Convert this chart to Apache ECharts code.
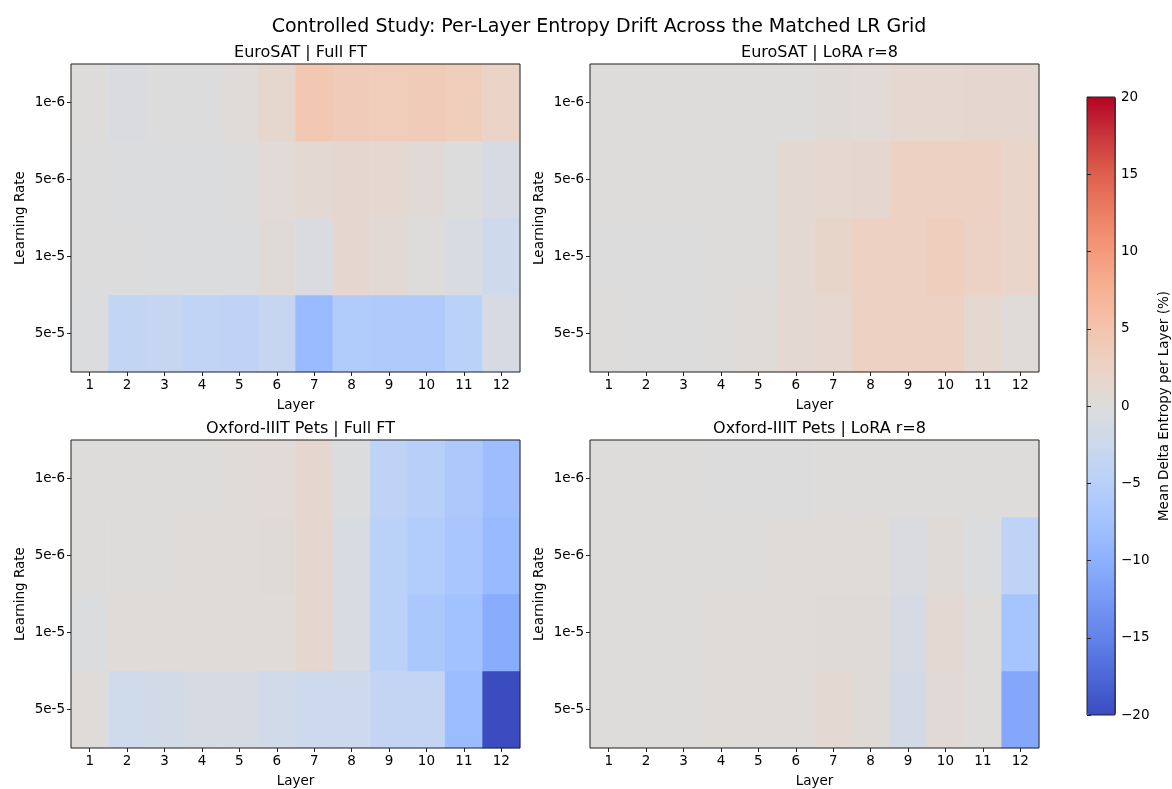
<!DOCTYPE html>
<html>
<head>
<meta charset="utf-8">
<script src="https://cdn.jsdelivr.net/npm/echarts@6/dist/echarts.min.js"></script>
<style>html,body{margin:0;padding:0;background:#fff}#c{width:1172px;height:789px}</style>
</head>
<body>
<div id="c"></div>
<script>
const layers = ['1','2','3','4','5','6','7','8','9','10','11','12'];
const learningRates = ['5e-5','1e-5','5e-6','1e-6']; // bottom to top
const titles = ['EuroSAT | Full FT','EuroSAT | LoRA r=8','Oxford-IIIT Pets | Full FT','Oxford-IIIT Pets | LoRA r=8'];
const colorbarTicks = [-20,-15,-10,-5,0,5,10,15,20];

// values per panel, rows keyed by learning rate, 12 layers each
const eurosatFull_1e6 = [0,-0.6,-0.1,-0.1,0.2,1.5,4.4,3.8,3.6,3.9,3.4,2.2];
const eurosatFull_5e6 = [-0.2,-0.3,-0.4,-0.4,-0.2,0.6,1.0,1.3,1.2,0.7,-0.1,-1.1];
const eurosatFull_1e5 = [-0.1,-0.1,-0.4,-0.4,-0.3,0.5,-0.6,1.3,0.8,0.1,-0.8,-2.2];
const eurosatFull_5e5 = [-0.4,-3.7,-3.2,-4.0,-4.2,-3.2,-8.5,-5.8,-6.0,-6.0,-4.8,-1.0];

const eurosatLora_1e6 = [0,0,0,0,0,0.1,0.5,0.6,1.2,1.2,1.3,1.3];
const eurosatLora_5e6 = [0,0,0,0,0,1.0,1.1,1.4,2.8,2.8,2.8,2.0];
const eurosatLora_1e5 = [-0.1,-0.2,-0.1,0,0,1.0,1.9,2.8,2.9,3.2,2.6,2.0];
const eurosatLora_5e5 = [0,-0.1,-0.1,0.1,0.2,1.0,1.2,2.8,2.8,2.8,1.1,0.2];

const petsFull_1e6 = [0,0,0,0,0.2,0.6,1.3,-0.4,-4.3,-5.0,-6.3,-8.2];
const petsFull_5e6 = [0.1,0.1,0.1,0.3,0.2,0.5,1.3,-0.9,-4.7,-5.6,-6.8,-8.6];
const petsFull_1e5 = [-0.3,0.2,0.2,0.3,0.3,0.3,1.3,-0.9,-4.8,-6.5,-7.6,-10.5];
const petsFull_5e5 = [0.2,-2.0,-1.6,-1.1,-1.1,-1.7,-2.4,-2.4,-3.6,-3.6,-8.4,-20.0];

const petsLora_1e6 = [0,0,0,-0.1,-0.2,-0.1,0,0,0,0,0,0];
const petsLora_5e6 = [0,0,0,0,0,0.3,0.3,0.4,-0.5,0.5,-0.3,-4.3];
const petsLora_1e5 = [0,0,0,0.2,0.2,0.3,0.5,0.5,-1.0,1.0,0,-7.2];
const petsLora_5e5 = [0,0,0,0.4,0.3,0.3,1.0,0.5,-1.3,0.7,0,-11.0];

const panels = [
  [eurosatFull_5e5, eurosatFull_1e5, eurosatFull_5e6, eurosatFull_1e6],
  [eurosatLora_5e5, eurosatLora_1e5, eurosatLora_5e6, eurosatLora_1e6],
  [petsFull_5e5, petsFull_1e5, petsFull_5e6, petsFull_1e6],
  [petsLora_5e5, petsLora_1e5, petsLora_5e6, petsLora_1e6]
];

const coolwarm = ['#3a4cc0','#4d68d7','#6282ea','#779af6','#8db0fe','#a3c2ff','#b8d0f9','#ccd9ee','#dddcdb','#ecd3c5','#f4c4ad','#f7b194','#f49a7b','#ec7f63','#de604d','#c8353a','#b40426'];

const FONT = 'DejaVu Sans';
const gridPos = [
  {left:71, top:64}, {left:590, top:64}, {left:71, top:440}, {left:590, top:440}
];
const W = 449, H = 308;

const grids = [], xAxes = [], yAxes = [], series = [], titleArr = [];
titleArr.push({text:'Controlled Study: Per-Layer Entropy Drift Across the Matched LR Grid', left:594, top:13, textAlign:'center',
  textStyle:{fontFamily:FONT, fontSize:19, fontWeight:'normal', color:'#000'}});
panels.forEach((rows, i) => {
  const g = gridPos[i];
  grids.push({left:g.left, top:g.top, width:W, height:H, show:true, z:10, backgroundColor:'transparent', borderColor:'#222', borderWidth:1});
  titleArr.push({text:titles[i], left:g.left + W/2, top:g.top - 24, textAlign:'center',
    textStyle:{fontFamily:FONT, fontSize:16, fontWeight:'normal', color:'#000'}});
  xAxes.push({type:'category', gridIndex:i, data:layers, name:'Layer', nameLocation:'middle', nameGap:26,
    nameTextStyle:{fontFamily:FONT, fontSize:13.5, color:'#000'},
    axisLine:{show:false}, axisTick:{show:true, alignWithLabel:true, length:4, lineStyle:{color:'#222'}},
    axisLabel:{fontFamily:FONT, fontSize:13.5, color:'#000', margin:6}, splitLine:{show:false}, z:11});
  yAxes.push({type:'category', gridIndex:i, data:learningRates, name:'Learning Rate', nameLocation:'middle', nameGap:44,
    nameTextStyle:{fontFamily:FONT, fontSize:13.5, color:'#000'},
    axisLine:{show:false}, axisTick:{show:true, alignWithLabel:true, length:4, lineStyle:{color:'#222'}},
    axisLabel:{fontFamily:FONT, fontSize:13.5, color:'#000', margin:6}, splitLine:{show:false}, z:11});
  const data = [];
  rows.forEach((row, r) => row.forEach((v, c) => data.push([c, r, v])));
  series.push({type:'heatmap', xAxisIndex:i, yAxisIndex:i, data:data, emphasis:{disabled:true}, progressive:0});
});

// colorbar axis
grids.push({left:1087, top:97, width:29, height:618, show:true, z:10, backgroundColor:'transparent', borderColor:'#222', borderWidth:1});
xAxes.push({type:'value', gridIndex:4, show:false});
yAxes.push({type:'value', gridIndex:4, min:colorbarTicks[0], max:colorbarTicks[colorbarTicks.length-1], interval:5, position:'right',
  name:'Mean Delta Entropy per Layer (%)', nameLocation:'middle', nameRotate:90, nameGap:42,
  nameTextStyle:{fontFamily:FONT, fontSize:13.5, color:'#000'},
  axisLine:{show:false}, axisTick:{show:true, length:4, lineStyle:{color:'#222'}},
  axisLabel:{fontFamily:FONT, fontSize:13.5, color:'#000', margin:6, formatter: v => String(v).replace('-', '\u2212')},
  splitLine:{show:false}, z:11});

const chart = echarts.init(document.getElementById('c'), null, {renderer:'canvas'});
chart.setOption({
  backgroundColor:'#fff',
  animation:false,
  title:titleArr,
  grid:grids,
  xAxis:xAxes,
  yAxis:yAxes,
  visualMap:{type:'continuous', min:-20, max:20, seriesIndex:[0,1,2,3], calculable:false, hoverLink:false,
    left:1087, top:97, itemWidth:29, itemHeight:618, padding:0, text:null, showLabel:false,
    inRange:{color:coolwarm}, z:5},
  series:series
});
</script>
</body>
</html>
